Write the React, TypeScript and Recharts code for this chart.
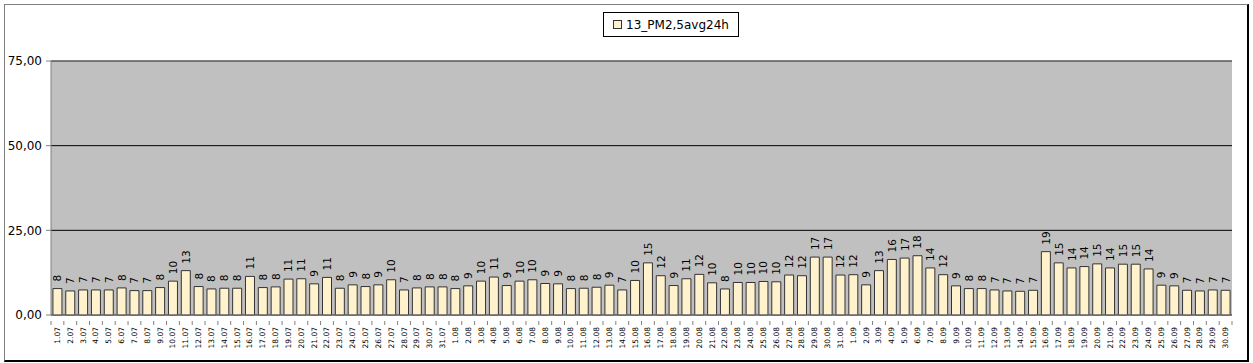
import { BarChart, Bar, XAxis, YAxis, CartesianGrid, ReferenceLine, LabelList } from 'recharts';

const days = [
  '1.07', '2.07', '3.07', '4.07', '5.07', '6.07', '7.07', '8.07', '9.07', '10.07',
  '11.07', '12.07', '13.07', '14.07', '15.07', '16.07', '17.07', '18.07', '19.07', '20.07',
  '21.07', '22.07', '23.07', '24.07', '25.07', '26.07', '27.07', '28.07', '29.07', '30.07', '31.07',
  '1.08', '2.08', '3.08', '4.08', '5.08', '6.08', '7.08', '8.08', '9.08', '10.08',
  '11.08', '12.08', '13.08', '14.08', '15.08', '16.08', '17.08', '18.08', '19.08', '20.08',
  '21.08', '22.08', '23.08', '24.08', '25.08', '26.08', '27.08', '28.08', '29.08', '30.08', '31.08',
  '1.09', '2.09', '3.09', '4.09', '5.09', '6.09', '7.09', '8.09', '9.09', '10.09',
  '11.09', '12.09', '13.09', '14.09', '15.09', '16.09', '17.09', '18.09', '19.09', '20.09',
  '21.09', '22.09', '23.09', '24.09', '25.09', '26.09', '27.09', '28.09', '29.09', '30.09',
];

const pm25 = [
  7.8, 7.1, 7.4, 7.4, 7.4, 8.0, 7.2, 7.2, 8.1, 10.0,
  13.1, 8.4, 7.7, 7.9, 7.9, 11.4, 8.1, 8.3, 10.6, 10.7,
  9.2, 11.1, 7.9, 8.9, 8.4, 8.9, 10.4, 7.4, 8.0, 8.3, 8.3,
  7.8, 8.6, 10.0, 11.2, 8.7, 10.0, 10.4, 9.3, 9.2, 7.8,
  7.9, 8.2, 8.8, 7.4, 10.2, 15.4, 11.6, 8.7, 10.7, 12.0,
  9.5, 7.7, 9.6, 9.6, 9.9, 9.8, 11.8, 11.6, 17.1, 17.1, 11.8,
  11.9, 8.9, 13.1, 16.4, 16.8, 17.5, 13.9, 11.9, 8.6, 7.8,
  7.8, 7.4, 7.1, 7.0, 7.3, 18.7, 15.4, 13.9, 14.3, 15.1,
  13.9, 15.0, 15.0, 13.6, 8.8, 8.6, 7.3, 7.1, 7.4, 7.3,
];

const yTicks = [0, 25, 50, 75];
const seriesName = '13_PM2,5avg24h';

const data = days.map((day, i) => ({ day, value: pm25[i] }));

const W = 1253;
const H = 363;
const PLOT_LEFT = 51;
const PLOT_RIGHT = 21;
const BAND = (W - PLOT_LEFT - PLOT_RIGHT) / days.length;
const FONT = '"DejaVu Sans", Arial, sans-serif';

const DayTick = (props: any) => {
  const { x, y, payload, index } = props;
  const top = y - 2;
  return (
    <g>
      <line x1={x - BAND / 2} x2={x - BAND / 2} y1={top} y2={top + 4} stroke="#808080" />
      {index === days.length - 1 && (
        <line x1={x + BAND / 2} x2={x + BAND / 2} y1={top} y2={top + 4} stroke="#808080" />
      )}
      <text
        x={x}
        y={top + 6}
        transform={`rotate(-90, ${x}, ${top + 6})`}
        textAnchor="end"
        dominantBaseline="central"
        fontSize={7.5}
        fontFamily={FONT}
        fill="#000"
      >
        {payload.value}
      </text>
    </g>
  );
};

// value labels sit above each bar, turned to read bottom-up like the Excel original
const ValueLabel = (props: any) => {
  const { x, y, width, value } = props;
  const cx = x + width / 2;
  const ty = y - 7;
  return (
    <text
      x={cx}
      y={ty}
      transform={`rotate(-90, ${cx}, ${ty})`}
      textAnchor="start"
      dominantBaseline="central"
      fontSize={10.5}
      fontFamily={FONT}
      fill="#000"
    >
      {Math.round(value)}
    </text>
  );
};

export default function App() {
  return (
    <div style={{ position: 'absolute', left: 0, top: 0, width: W, height: H, background: '#fff' }}>
      <div
        style={{
          position: 'absolute',
          left: 4,
          top: 4,
          width: 1245,
          height: 358,
          boxSizing: 'border-box',
          borderTop: '1px solid #808080',
          borderLeft: '1px solid #808080',
          borderRight: '2px solid #000',
          borderBottom: '2px solid #000',
        }}
      />
      <div
        style={{
          position: 'absolute',
          left: 603,
          top: 12,
          width: 136,
          height: 25,
          boxSizing: 'border-box',
          border: '1px solid #000',
          background: '#fff',
          display: 'flex',
          alignItems: 'center',
          justifyContent: 'center',
          fontFamily: FONT,
          fontSize: 12,
          color: '#000',
        }}
      >
        <span
          style={{
            display: 'inline-block',
            width: 7,
            height: 7,
            background: '#FFF2CC',
            border: '1px solid #333',
            marginRight: 4,
          }}
        />
        {seriesName}
      </div>
      <div style={{ position: 'absolute', left: 0, top: 0 }}>
        <BarChart
          width={W}
          height={H}
          data={data}
          margin={{ top: 61, right: PLOT_RIGHT, left: 0, bottom: 0 }}
          barCategoryGap="15%"
        >
          <CartesianGrid fill="#C0C0C0" stroke="#000" vertical={false} />
          <XAxis
            dataKey="day"
            height={48}
            interval={0}
            tickLine={false}
            axisLine={{ stroke: '#808080' }}
            tick={<DayTick />}
          />
          <YAxis
            width={PLOT_LEFT}
            domain={[0, 75]}
            ticks={yTicks}
            tickSize={5}
            tickMargin={4}
            stroke="#808080"
            tick={{ fill: '#000', fontSize: 12, fontFamily: FONT }}
            tickFormatter={(v: number) => v.toFixed(2).replace('.', ',')}
          />
          <YAxis
            yAxisId="frame"
            orientation="right"
            width={0}
            tick={false}
            tickLine={false}
            stroke="#808080"
            domain={[0, 75]}
          />
          <ReferenceLine y={75} stroke="#808080" />
          <Bar
            dataKey="value"
            fill="#FFF2CC"
            stroke="#333"
            strokeWidth={1}
            isAnimationActive={false}
          >
            <LabelList dataKey="value" content={<ValueLabel />} />
          </Bar>
        </BarChart>
      </div>
    </div>
  );
}
